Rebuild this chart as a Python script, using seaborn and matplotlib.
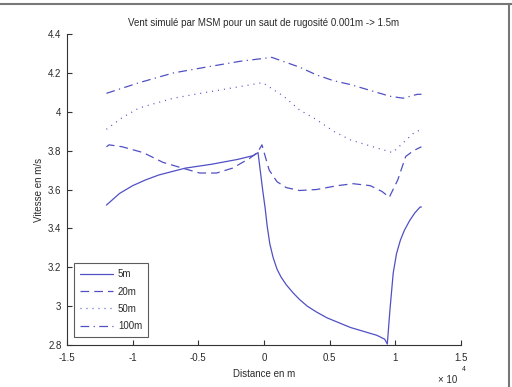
import numpy as np
import pandas as pd
import matplotlib
matplotlib.use("Agg")
import matplotlib.pyplot as plt
import seaborn as sns
from matplotlib.lines import Line2D

sns.set_theme(style="white")
plt.rcParams['font.family'] = ['Liberation Sans', 'DejaVu Sans']

# ---- data (distance in m, speed in m/s) ----
x_5m = [-12000, -11000, -10000, -9000, -8000, -6000, -4000, -2000, -800, -450,
        -100, 100, 250, 450, 700, 1000, 1300, 1700, 2200, 2700, 3300, 4000, 4800,
        5700, 6600, 7600, 8600, 9200, 9400, 9600, 9850, 10100, 10400, 10700,
        11100, 11500, 11900, 12000]
y_5m = [3.52, 3.58, 3.62, 3.65, 3.675, 3.71, 3.73, 3.755, 3.775, 3.79,
        3.60, 3.50, 3.41, 3.32, 3.25, 3.19, 3.15, 3.11, 3.07, 3.035, 3.00, 2.97, 2.94,
        2.915, 2.89, 2.87, 2.85, 2.83, 2.805, 2.98, 3.17, 3.27, 3.34, 3.39,
        3.44, 3.48, 3.51, 3.51]

x_20m = [-12000, -11800, -10800, -9200, -7700, -6200, -4900, -3600, -2400, -1100,
         -500, -150, 100, 400, 1000, 1700, 2700, 4000, 5600, 6800, 8100, 9000,
         9550, 10200, 10800, 11400, 12000]
y_20m = [3.82, 3.83, 3.82, 3.79, 3.74, 3.71, 3.685, 3.685, 3.71, 3.76,
         3.79, 3.83, 3.77, 3.70, 3.64, 3.61, 3.595, 3.60, 3.62, 3.63, 3.62, 3.59,
         3.56, 3.65, 3.77, 3.80, 3.82]

x_50m = [-12000, -10800, -9500, -6900, -4400, -1800, -100, 1500, 2700, 4000,
         5300, 6600, 8300, 9800, 10600, 11400, 12000]
y_50m = [3.91, 3.97, 4.02, 4.07, 4.10, 4.13, 4.15, 4.08, 4.01, 3.96,
         3.90, 3.855, 3.82, 3.79, 3.84, 3.89, 3.91]

x_100m = [-12000, -9500, -6900, -4400, -1800, 0, 600, 2700, 4000, 5300,
          6600, 8100, 9600, 10600, 11700, 12000]
y_100m = [4.095, 4.15, 4.20, 4.23, 4.26, 4.275, 4.28, 4.23, 4.19, 4.16,
          4.14, 4.11, 4.08, 4.07, 4.09, 4.09]

labels = ['5m', '20m', '50m', '100m']
xticks = [-1.5, -1, -0.5, 0, 0.5, 1, 1.5]
xticklabels = ['-1.5', '-1', '-0.5', '0', '0.5', '1', '1.5']
yticks = [2.8, 3.0, 3.2, 3.4, 3.6, 3.8, 4.0, 4.2, 4.4]
yticklabels = ['2.8', '3', '3.2', '3.4', '3.6', '3.8', '4', '4.2', '4.4']

series = [(x_5m, y_5m), (x_20m, y_20m), (x_50m, y_50m), (x_100m, y_100m)]
styles = ['-', (0, (7, 4)), (0, (0.8, 4)), (0, (7, 3.5, 1, 3.5))]
color = '#5050c4'
fs = 7
tc = '#2a2a2a'

fig = plt.figure(figsize=(5.12, 3.87), dpi=100)
fig.patch.set_facecolor('white')
ax = fig.add_axes([0.131, 0.1085, 0.769, 0.8035])
ax.set_facecolor('white')

for (xs, ys), ls, lab in zip(series, styles, labels):
    df = pd.DataFrame({'x': np.array(xs) / 1e4, 'y': ys})
    sns.lineplot(data=df, x='x', y='y', ax=ax, color=color, linewidth=0.9,
                 linestyle=ls, sort=False, estimator=None, label=lab,
                 legend=False)

ax.set_xlim(-1.5, 1.5)
ax.set_ylim(2.8, 4.4)
ax.set_xticks(xticks)
ax.set_xticklabels(xticklabels, fontsize=fs)
ax.set_yticks(yticks)
ax.set_yticklabels(yticklabels, fontsize=fs)
ax.tick_params(axis='x', direction='in', length=3.5, width=0.8, color='#333333',
               bottom=True, pad=6, labelcolor=tc)
ax.tick_params(axis='y', direction='in', length=3.5, width=0.8, color='#333333',
               left=True, pad=4, labelcolor=tc)
for s in ['top', 'right']:
    ax.spines[s].set_visible(False)
for s in ['left', 'bottom']:
    ax.spines[s].set_color('#333333')
    ax.spines[s].set_linewidth(0.8)

ax.set_xlabel('Distance en m', fontsize=fs, color=tc, labelpad=4)
ax.set_ylabel('Vitesse en m/s', fontsize=fs, color=tc, labelpad=3)
ax.set_title('Vent simulé par MSM pour un saut de rugosité 0.001m -> 1.5m',
             fontsize=fs, color=tc, pad=6)

handles = [Line2D([], [], color=color, linewidth=0.9, linestyle=ls) for ls in styles]
leg = ax.legend(handles, labels, loc='lower left', bbox_to_anchor=(0.018, 0.026),
                borderaxespad=0, fontsize=fs, frameon=True, fancybox=False,
                edgecolor='#333333', handlelength=3.4, handletextpad=0.5,
                labelspacing=0.75, borderpad=0.6)
leg.get_frame().set_linewidth(0.8)
for t in leg.get_texts():
    t.set_color(tc)

# MATLAB-style exponent label
fig.text(0.855, 0.004, '× 10', fontsize=fs, color=tc, ha='left', va='bottom')
fig.text(0.903, 0.036, '4', fontsize=5, color=tc, ha='left', va='bottom')

# image frame (top and right)
fig.add_artist(Line2D([0, 1], [0.990, 0.990], transform=fig.transFigure,
                      color='#777777', linewidth=1.5))
fig.add_artist(Line2D([0.994, 0.994], [0, 0.990], transform=fig.transFigure,
                      color='#777777', linewidth=1.5))

fig.savefig('out.png', dpi=100, facecolor='white')
